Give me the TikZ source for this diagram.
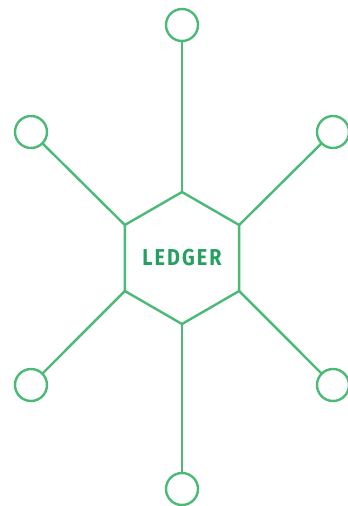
\documentclass[tikz,border=0pt]{standalone}
\usepackage{fontspec}
\newfontfamily\hubfont{Fira Sans}[LetterSpace=9,FakeStretch=0.86]
\usepackage{xcolor}
\definecolor{leaf}{RGB}{74,186,118}
\definecolor{moss}{RGB}{36,160,96}
\usepackage{tikz}
\usetikzlibrary{shapes.geometric}

\begin{document}
\begin{tikzpicture}[
  x=1pt, y=-1pt,
  hub/.style={regular polygon,regular polygon sides=6,shape border rotate=30,
              draw=leaf,line width=2.4pt,minimum size=132pt,inner sep=0pt,
              outer sep=0pt,font=\hubfont\bfseries\fontsize{23}{25}\selectfont,
              text=moss},
  peer/.style={circle,draw=leaf,line width=2.4pt,minimum size=32pt,
               inner sep=0pt,outer sep=0pt},
  link/.style={draw=leaf,line width=2.4pt},
]
  \useasboundingbox (0,0) rectangle (348,506);
  \node[hub] (ledger) at (182,258) {LEDGER};
  \node[peer] (n1) at (182,25) {};
  \node[peer] (n2) at (31,132) {};
  \node[peer] (n3) at (333,132) {};
  \node[peer] (n4) at (31,385) {};
  \node[peer] (n5) at (333,385) {};
  \node[peer] (n6) at (182,489) {};
  \draw[link] (ledger.corner 1) -- (n1);
  \draw[link] (ledger.corner 2) -- (n2);
  \draw[link] (ledger.corner 6) -- (n3);
  \draw[link] (ledger.corner 3) -- (n4);
  \draw[link] (ledger.corner 5) -- (n5);
  \draw[link] (ledger.corner 4) -- (n6);
\end{tikzpicture}
\end{document}
